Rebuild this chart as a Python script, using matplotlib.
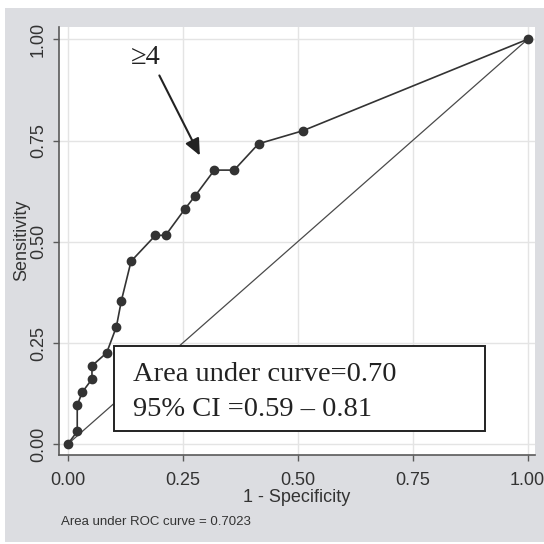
import matplotlib
matplotlib.use("Agg")
import matplotlib.pyplot as plt
from matplotlib.patches import Rectangle

# ROC curve points (1 - specificity, sensitivity)
fpr = [0.0, 0.021, 0.021, 0.032, 0.053, 0.053, 0.085, 0.106, 0.117, 0.138,
       0.191, 0.213, 0.255, 0.277, 0.319, 0.362, 0.415, 0.511, 1.0]
tpr = [0.0, 0.032, 0.097, 0.129, 0.161, 0.194, 0.226, 0.290, 0.355, 0.452,
       0.516, 0.516, 0.581, 0.613, 0.677, 0.677, 0.742, 0.774, 1.0]
ref_line = [0.0, 1.0]
ticks = [0.0, 0.25, 0.5, 0.75, 1.0]
tick_labels = ["0.00", "0.25", "0.50", "0.75", "1.00"]
box_lines = ["Area under curve=0.70", "95% CI =0.59 \u2013 0.81"]
note_text = "Area under ROC curve = 0.7023"
cut_label = "\u22654"

W = 544
fig = plt.figure(figsize=(5.44, 5.44), dpi=100)
fig.patch.set_facecolor("white")
bg = Rectangle((5 / W, 1 - 542 / W), 1 - 5 / W, (542 - 8) / W,
               transform=fig.transFigure, facecolor="#dcdde1",
               edgecolor="none", zorder=-10)
fig.patches.append(bg)

ax = fig.add_axes([59.3 / W, 1 - 455.3 / W, (535 - 59.3) / W, (455.3 - 26.7) / W])
ax.set_facecolor("white")
ax.set_xlim(-0.018, 1.016)
ax.set_ylim(-0.027, 1.031)

ax.set_xticks(ticks)
ax.set_xticklabels(tick_labels)
ax.set_yticks(ticks)
ax.set_yticklabels(tick_labels, rotation=90, va="center")
ax.grid(True, color="#e4e4e4", linewidth=1.0, zorder=0)
ax.set_axisbelow(True)

for s in ["top", "right"]:
    ax.spines[s].set_visible(False)
for s in ["left", "bottom"]:
    ax.spines[s].set_color("#5a5a5a")
    ax.spines[s].set_linewidth(1.2)

ax.tick_params(axis="both", direction="out", length=4, width=1.0,
               color="#5a5a5a", labelsize=13, labelcolor="#333333")
ax.tick_params(axis="x", pad=8)
ax.tick_params(axis="y", pad=5)
for lab in ax.get_xticklabels() + ax.get_yticklabels():
    lab.set_family("Liberation Sans")

ax.plot(ref_line, ref_line, color="#4a4a4a", linewidth=0.9, zorder=2)
ax.plot(fpr, tpr, color="#333333", linewidth=1.2, marker="o",
        markersize=6, markerfacecolor="#333333", markeredgecolor="#333333",
        zorder=3)

# text box
x0 = (114 - 67.5) / 460
x1 = (485 - 67.5) / 460
y0 = (444.3 - 431) / 405
y1 = (444.3 - 346) / 405
ax.add_patch(Rectangle((x0, y0), x1 - x0, y1 - y0, facecolor="white",
                       edgecolor="#222222", linewidth=1.4, zorder=5))
tx = (133 - 67.5) / 460
ax.text(tx, (444.3 - 374) / 405, box_lines[0], family="Liberation Serif",
        fontsize=20.5, color="#222222", va="center", ha="left", zorder=6)
ax.text(tx, (444.3 - 409) / 405, box_lines[1], family="Liberation Serif",
        fontsize=20.5, color="#222222", va="center", ha="left", zorder=6)

# annotation arrow
ax.annotate("", xy=((201 - 67.5) / 460, (444.3 - 158) / 405),
            xytext=((158 - 67.5) / 460, (444.3 - 73) / 405),
            arrowprops=dict(arrowstyle="-|>,head_length=1.0,head_width=0.45",
                            color="#222222", linewidth=1.5),
            zorder=6)
ax.text((146 - 67.5) / 460, (444.3 - 58) / 405, cut_label,
        family=["Liberation Serif", "DejaVu Serif"], fontsize=20.5,
        color="#222222", ha="center", va="center", zorder=6)

ax.set_xlabel("")
ax.set_ylabel("")
fig.text(297 / W, 1 - 497 / W, "1 - Specificity", family="Liberation Sans",
         fontsize=13, color="#333333", ha="center", va="center")
fig.text(22 / W, 1 - 240 / W, "Sensitivity", family="Liberation Sans",
         fontsize=13, color="#333333", ha="center", va="center", rotation=90)
fig.text(61 / W, 1 - 522 / W, note_text, family="Liberation Sans",
         fontsize=9.5, color="#333333", ha="left", va="center")

fig.savefig("out.png", dpi=100, facecolor=fig.get_facecolor())
